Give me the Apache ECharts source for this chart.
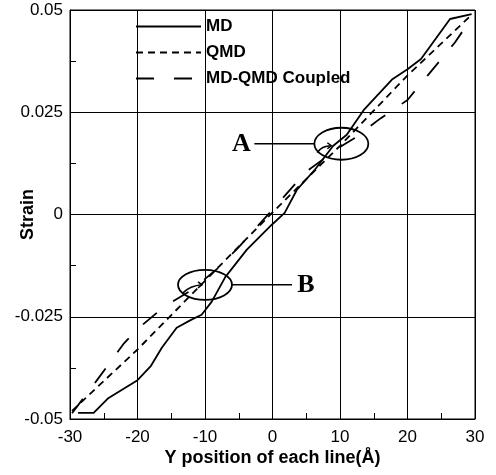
<!DOCTYPE html>
<html>
<head>
<meta charset="utf-8">
<script src="https://cdn.jsdelivr.net/npm/echarts@6/dist/echarts.min.js"></script>
<style>
  html, body { margin: 0; padding: 0; background: #fff; }
  #main { width: 496px; height: 475px; }
</style>
</head>
<body>
<div id="main"></div>
<script>
// 数据 (从图上读出来的)
const mdX = [-28.8, -26.5, -24.4, -20, -18, -16.4, -14.2, -12, -10.5, -9, -7, -3.8, -0.1, 1.8, 3.6, 6.3, 9, 11, 13.5, 17.7, 20, 22, 26.3, 29.5]
const mdY = [-0.0485, -0.0485, -0.045, -0.0405, -0.037, -0.0326, -0.0277, -0.0257, -0.0245, -0.0213, -0.0153, -0.0086, -0.0025, 0.0004, 0.006, 0.011, 0.0168, 0.0195, 0.0255, 0.033, 0.0355, 0.038, 0.0478, 0.049]

const qmdX = [-29.7, -20, -10, 0, 10, 20, 29.6]
const qmdY = [-0.048, -0.033, -0.0162, 0.0005, 0.0168, 0.034, 0.049]

const cplX = [-29.7, -26, -22, -20, -16, -12, -8, -5, 0, 5, 10, 12, 16, 20, 23, 27, 29.7]
const cplY = [-0.0486, -0.0405, -0.0315, -0.028, -0.0225, -0.0185, -0.013, -0.008, 0.0012, 0.0105, 0.0165, 0.0185, 0.0235, 0.028, 0.034, 0.042, 0.0485]

const seriesNames = ['MD', 'QMD', 'MD-QMD Coupled']
const xTicks = [-30, -20, -10, 0, 10, 20, 30]
const yTicks = [-0.05, -0.025, 0, 0.025, 0.05]

// 标注 A / B 的位置 (数据坐标)
const annA = [10.2, 0.0173]
const annB = [-10, -0.0172]

const pairs = (xs, ys) => xs.map((x, i) => [x, ys[i]])

const chart = echarts.init(document.getElementById('main'))

const axisFont = { fontFamily: 'Liberation Sans, Arial, sans-serif', fontSize: 17, color: '#000' }
const nameFont = { fontFamily: 'Liberation Sans, Arial, sans-serif', fontSize: 18, fontWeight: 'bold', color: '#000' }

const option = {
    animation: false,
    backgroundColor: '#fff',
    grid: {
        left: 70, right: 21, top: 10, bottom: 56,
        outerBoundsMode: 'none',
        show: true, borderColor: '#000', borderWidth: 1
    },
    legend: {
        data: seriesNames,
        orient: 'vertical',
        left: 130, top: 13,
        itemWidth: 65, itemHeight: 14, itemGap: 9,
        // 不要图例里的圆点
        itemStyle: { color: 'rgba(0,0,0,0)', borderWidth: 0, opacity: 0 },
        textStyle: { fontFamily: 'Liberation Sans, Arial, sans-serif', fontSize: 17, fontWeight: 'bold', color: '#000' }
    },
    xAxis: {
        type: 'value',
        min: xTicks[0], max: xTicks[xTicks.length - 1], interval: 10,
        name: 'Y position of each line(Å)',
        nameLocation: 'middle', nameGap: 30, nameMoveOverlap: false,
        nameTextStyle: nameFont,
        axisLine: { onZero: false, lineStyle: { color: '#000', width: 1 } },
        axisTick: { show: false, inside: true },
        minorTick: { show: true, splitNumber: 2, length: 6, lineStyle: { color: '#000' } },
        axisLabel: Object.assign({ margin: 10 }, axisFont),
        splitLine: { show: true, lineStyle: { color: '#000', width: 1 } }
    },
    yAxis: {
        type: 'value',
        min: yTicks[0], max: yTicks[yTicks.length - 1], interval: 0.025,
        name: 'Strain',
        nameLocation: 'middle', nameGap: 33, nameMoveOverlap: false,
        nameTextStyle: nameFont,
        axisLine: { onZero: false, lineStyle: { color: '#000', width: 1 } },
        axisTick: { show: false, inside: true },
        minorTick: { show: true, splitNumber: 2, length: 6, lineStyle: { color: '#000' } },
        axisLabel: Object.assign({ margin: 7 }, axisFont),
        splitLine: { show: true, lineStyle: { color: '#000', width: 1 } }
    },
    series: [{
        name: seriesNames[0], type: 'line', symbol: 'none',
        data: pairs(mdX, mdY),
        lineStyle: { color: '#000', width: 1.8, type: 'solid' },
        itemStyle: { color: '#000' }
    }, {
        name: seriesNames[1], type: 'line', symbol: 'none',
        data: pairs(qmdX, qmdY),
        lineStyle: { color: '#000', width: 1.8, type: [7, 5] },
        itemStyle: { color: '#000' }
    }, {
        name: seriesNames[2], type: 'line', symbol: 'none',
        data: pairs(cplX, cplY),
        lineStyle: { color: '#000', width: 1.8, type: [18, 20] },
        itemStyle: { color: '#000' }
    }]
}

chart.setOption(option)

// 标注: 椭圆 + 引线 + 字母 + 椭圆里的小箭头
const pA = chart.convertToPixel({ gridIndex: 0 }, annA)
const pB = chart.convertToPixel({ gridIndex: 0 }, annB)
const letterFont = 'bold 26px "Liberation Serif", "Times New Roman", serif'
const thin = { stroke: '#000', lineWidth: 1.5, fill: null }

chart.setOption({
    graphic: [
        { type: 'ellipse', shape: { cx: pA[0], cy: pA[1], rx: 27, ry: 16 }, style: { fill: null, stroke: '#000', lineWidth: 1.8 } },
        { type: 'line', shape: { x1: pA[0] - 27, y1: pA[1], x2: pA[0] - 87, y2: pA[1] }, style: thin },
        { type: 'text', x: pA[0] - 100, y: pA[1] + 1, style: { text: 'A', font: letterFont, fill: '#000', align: 'center', verticalAlign: 'middle' } },
        { type: 'bezierCurve', shape: { x1: pA[0] - 24, y1: pA[1] + 9, cpx1: pA[0] - 20, cpy1: pA[1] + 2, x2: pA[0] - 10, y2: pA[1] + 2 }, style: thin },
        { type: 'polyline', shape: { points: [[pA[0] - 14, pA[1] - 1], [pA[0] - 10, pA[1] + 2], [pA[0] - 14, pA[1] + 5]] }, style: thin },
        { type: 'ellipse', shape: { cx: pB[0], cy: pB[1], rx: 27, ry: 15 }, style: { fill: null, stroke: '#000', lineWidth: 1.8 } },
        { type: 'line', shape: { x1: pB[0] + 27, y1: pB[1], x2: pB[0] + 87, y2: pB[1] }, style: thin },
        { type: 'text', x: pB[0] + 101, y: pB[1], style: { text: 'B', font: letterFont, fill: '#000', align: 'center', verticalAlign: 'middle' } },
        { type: 'bezierCurve', shape: { x1: pB[0] - 22, y1: pB[1] + 8, cpx1: pB[0] - 15, cpy1: pB[1] + 1, x2: pB[0] - 3, y2: pB[1] }, style: thin },
        { type: 'polyline', shape: { points: [[pB[0] - 7, pB[1] - 3], [pB[0] - 3, pB[1]], [pB[0] - 7, pB[1] + 3]] }, style: thin }
    ]
})
</script>
</body>
</html>
